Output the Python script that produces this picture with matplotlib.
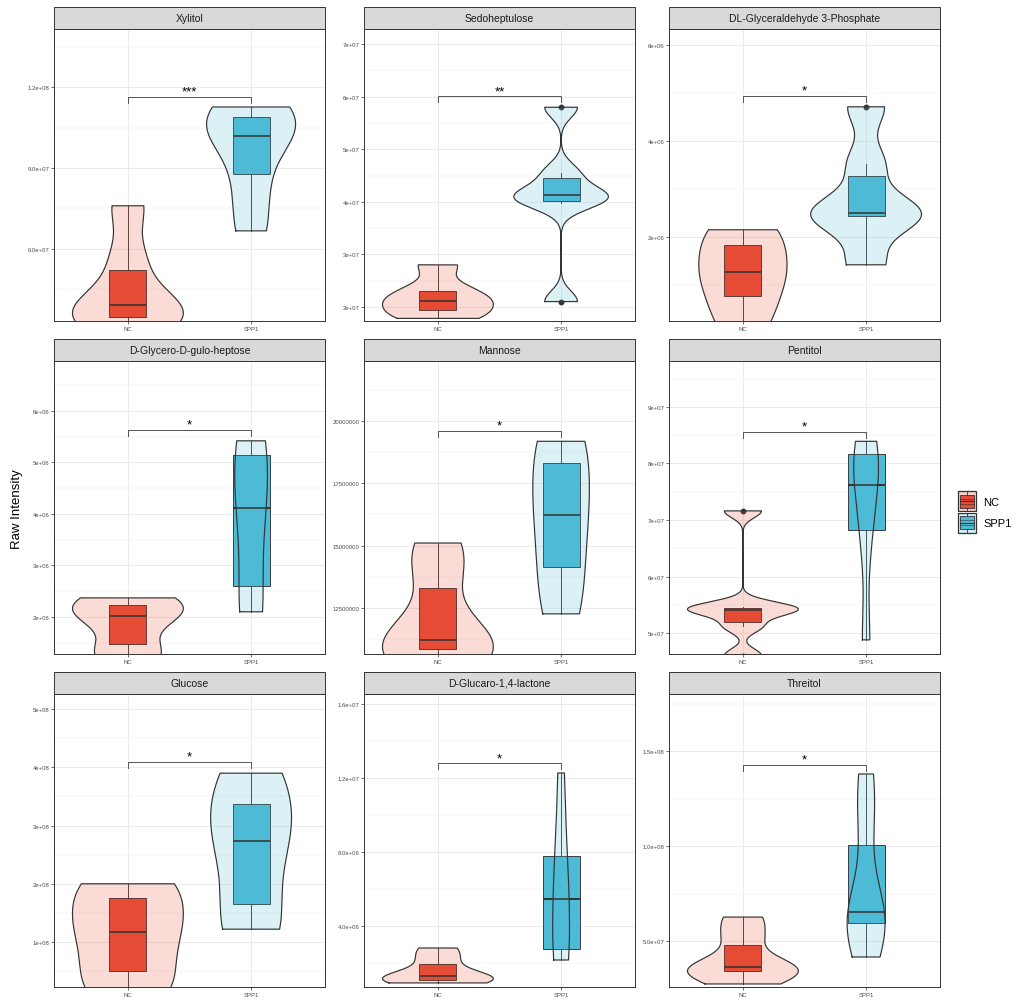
import numpy as np
import matplotlib
matplotlib.use('Agg')
import matplotlib.pyplot as plt
from matplotlib.patches import Rectangle, Patch
from matplotlib.legend_handler import HandlerBase

plt.rcParams['font.family'] = ['Liberation Sans', 'DejaVu Sans']

# ---------------- data ----------------
groups = ['NC', 'SPP1']
metabolites = ['Xylitol', 'Sedoheptulose', 'DL-Glyceraldehyde 3-Phosphate',
               'D-Glycero-D-gulo-heptose', 'Mannose', 'Pentitol',
               'Glucose', 'D-Glucaro-1,4-lactone', 'Threitol']

xylitol_nc = [3.10e7, 3.39e7, 3.80e7, 4.06e7, 5.61e7, 7.60e7]
xylitol_spp1 = [6.67e7, 8.36e7, 1.005e8, 1.033e8, 1.108e8, 1.126e8]
sedoheptulose_nc = [1.78e7, 1.88e7, 2.08e7, 2.16e7, 2.36e7, 2.80e7]
sedoheptulose_spp1 = [2.10e7, 3.98e7, 4.12e7, 4.14e7, 4.55e7, 5.80e7]
glyceraldehyde_nc = [0.10e6, 0.63e6, 1.20e6, 1.34e6, 1.99e6, 2.15e6]
glyceraldehyde_spp1 = [1.42e6, 2.42e6, 2.48e6, 2.52e6, 3.52e6, 4.71e6]
heptose_nc = [1.24e6, 1.31e6, 1.98e6, 2.06e6, 2.29e6, 2.37e6]
heptose_spp1 = [2.10e6, 2.17e6, 3.90e6, 4.34e6, 5.40e6, 5.42e6]
mannose_nc = [1.040e7, 1.080e7, 1.100e7, 1.144e7, 1.392e7, 1.510e7]
mannose_spp1 = [1.226e7, 1.357e7, 1.580e7, 1.666e7, 1.887e7, 1.918e7]
pentitol_nc = [4.60e7, 5.12e7, 5.40e7, 5.42e7, 5.46e7, 7.16e7]
pentitol_spp1 = [4.88e7, 6.59e7, 7.50e7, 7.72e7, 8.31e7, 8.39e7]
glucose_nc = [0.20e8, 0.31e8, 1.10e8, 1.26e8, 1.91e8, 2.00e8]
glucose_spp1 = [1.22e8, 1.33e8, 2.60e8, 2.86e8, 3.55e8, 3.90e8]
glucaro_nc = [0.92e6, 1.02e6, 1.25e6, 1.35e6, 2.15e6, 2.81e6]
glucaro_spp1 = [2.16e6, 2.21e6, 4.40e6, 6.52e6, 8.20e6, 12.27e6]
threitol_nc = [2.74e7, 3.38e7, 3.55e7, 3.71e7, 5.15e7, 6.26e7]
threitol_spp1 = [4.16e7, 5.83e7, 6.30e7, 6.76e7, 11.15e7, 13.79e7]

panel_data = [
    (xylitol_nc, xylitol_spp1), (sedoheptulose_nc, sedoheptulose_spp1),
    (glyceraldehyde_nc, glyceraldehyde_spp1), (heptose_nc, heptose_spp1),
    (mannose_nc, mannose_spp1), (pentitol_nc, pentitol_spp1),
    (glucose_nc, glucose_spp1), (glucaro_nc, glucaro_spp1),
    (threitol_nc, threitol_spp1)]

significance = ['***', '**', '*', '*', '*', '*', '*', '*', '*']
bracket_y = [1.163e8, 6.01e7, 4.94e6, 5.63e6, 1.96e7, 8.56e7, 4.09e8, 1.28e7, 1.426e8]

ytick_values = [
    [6.0e7, 9.0e7, 1.2e8],
    [2e7, 3e7, 4e7, 5e7, 6e7, 7e7],
    [2e6, 4e6, 6e6],
    [2e6, 3e6, 4e6, 5e6, 6e6],
    [1.25e7, 1.5e7, 1.75e7, 2.0e7],
    [5e7, 6e7, 7e7, 8e7, 9e7],
    [1e8, 2e8, 3e8, 4e8, 5e8],
    [4e6, 8e6, 1.2e7, 1.6e7],
    [5e7, 1e8, 1.5e8]]
ytick_labels = [
    ['6.0e+07', '9.0e+07', '1.2e+08'],
    ['2e+07', '3e+07', '4e+07', '5e+07', '6e+07', '7e+07'],
    ['2e+06', '4e+06', '6e+06'],
    ['2e+06', '3e+06', '4e+06', '5e+06', '6e+06'],
    ['12500000', '15000000', '17500000', '20000000'],
    ['5e+07', '6e+07', '7e+07', '8e+07', '9e+07'],
    ['1e+08', '2e+08', '3e+08', '4e+08', '5e+08'],
    ['4.0e+06', '8.0e+06', '1.2e+07', '1.6e+07'],
    ['5.0e+07', '1.0e+08', '1.5e+08']]

# ---------------- layout / style ----------------
y_limits = [(3.33e7, 1.415e8), (1.73e7, 7.29e7), (0.25e6, 6.33e6),
            (1.28e6, 6.97e6), (1.065e7, 2.24e7), (4.63e7, 9.81e7),
            (0.227e8, 5.26e8), (0.70e6, 1.654e7), (2.58e7, 1.80e8)]

W, H = 1016, 1004
cols_px = [(54, 325), (364, 635), (669, 940)]
rows_px = [(30, 322), (362, 655), (695, 988)]
strip_h = 22
colors = ['#E64B35', '#4DBBD5']
edge = '#333333'
grid_c = '#EBEBEB'


def nrd0(x):
    hi = np.std(x, ddof=1)
    q75, q25 = np.percentile(x, [75, 25])
    lo = min(hi, (q75 - q25) / 1.34)
    if lo == 0:
        lo = hi
    return 0.9 * lo * len(x) ** -0.2


def kde(x):
    bw = nrd0(x)
    g = np.linspace(x.min(), x.max(), 512)
    d = np.exp(-0.5 * ((g[:, None] - x[None, :]) / bw) ** 2).sum(1) / (len(x) * bw * np.sqrt(2 * np.pi))
    return g, d


def box_stats(x):
    q1, med, q3 = np.percentile(x, [25, 50, 75])
    iqr = q3 - q1
    lo_f, hi_f = q1 - 1.5 * iqr, q3 + 1.5 * iqr
    inside = x[(x >= lo_f) & (x <= hi_f)]
    out = x[(x < lo_f) | (x > hi_f)]
    return q1, med, q3, inside.min(), inside.max(), out


fig = plt.figure(figsize=(W / 100, H / 100), dpi=100)
fig.patch.set_facecolor('white')

for i, name in enumerate(metabolites):
    r, c = divmod(i, 3)
    x0, x1 = cols_px[c]
    y0, y1 = rows_px[r]
    ax = fig.add_axes([x0 / W, 1 - y1 / H, (x1 - x0) / W, (y1 - y0) / H])
    ax.set_xlim(0.4, 2.6)
    ax.set_ylim(*y_limits[i])
    data = [np.array(d, dtype=float) for d in panel_data[i]]
    dens = [kde(d) for d in data]
    maxd = max(dd.max() for _, dd in dens)
    for j, d in enumerate(data):
        xc = j + 1
        col = colors[j]
        q1, med, q3, wlo, whi, out = box_stats(d)
        ax.plot([xc, xc], [wlo, q1], color=edge, lw=0.65, zorder=2)
        ax.plot([xc, xc], [q3, whi], color=edge, lw=0.65, zorder=2)
        ax.add_patch(Rectangle((xc - 0.15, q1), 0.3, q3 - q1, facecolor=col,
                               edgecolor=edge, lw=0.65, zorder=2))
        ax.plot([xc - 0.15, xc + 0.15], [med, med], color=edge, lw=1.4, zorder=2,
                solid_capstyle='butt')
        if len(out):
            ax.plot([xc] * len(out), out, 'o', ms=3.2, color=edge, zorder=2)
        g, dd = dens[j]
        hw = dd / maxd * 0.45
        ax.fill_betweenx(g, xc - hw, xc + hw, facecolor=col, alpha=0.2, lw=0, zorder=3)
        xs = np.concatenate([xc - hw, (xc + hw)[::-1], [xc - hw[0]]])
        ys = np.concatenate([g, g[::-1], [g[0]]])
        ax.plot(xs, ys, color=edge, lw=0.85, zorder=3)

    # significance bracket
    lo, hi = y_limits[i]
    tip = 0.02 * (hi - lo)
    by = bracket_y[i]
    ax.plot([1, 1, 2, 2], [by - tip, by, by, by - tip], color='#555555', lw=0.7, zorder=4)
    ax.annotate(significance[i], xy=(1.5, by), xytext=(0, 1.6), textcoords='offset points',
                ha='center', va='baseline', fontsize=9.5, color='black', zorder=5)

    # axes styling
    ticks = ytick_values[i]
    ax.set_yticks(ticks)
    ax.set_yticklabels(ytick_labels[i])
    step = ticks[1] - ticks[0]
    minor = np.arange(ticks[0] - step / 2, hi, step)
    ax.set_yticks([m for m in minor if lo <= m <= hi], minor=True)
    ax.set_xticks([1, 2])
    ax.set_xticklabels(groups)
    ax.grid(which='major', color=grid_c, lw=0.7)
    ax.grid(which='minor', axis='y', color=grid_c, lw=0.35)
    ax.set_axisbelow(True)
    ax.tick_params(which='minor', length=0)
    ax.tick_params(which='major', length=2.2, width=0.5, color=edge,
                   labelsize=4.3, labelcolor='#4D4D4D', pad=1.2)
    for s in ax.spines.values():
        s.set_color(edge)
        s.set_linewidth(0.7)
        s.set_zorder(6)

    # facet strip
    sh = strip_h / (y1 - y0)
    ax.add_patch(Rectangle((0, 1), 1, sh, transform=ax.transAxes, clip_on=False,
                           facecolor='#D9D9D9', edgecolor=edge, lw=0.7, zorder=7))
    ax.text(0.5, 1 + sh / 2, name, transform=ax.transAxes, ha='center', va='center',
            fontsize=7.5, color='#1A1A1A', zorder=8)

fig.text(17 / W, 1 - 509 / H, 'Raw Intensity', rotation=90, ha='center', va='center',
         fontsize=9.5, color='black')


class ViolinBoxHandler(HandlerBase):
    def create_artists(self, legend, orig_handle, xdescent, ydescent, width, height,
                       fontsize, trans):
        col = orig_handle.get_facecolor()
        bx, by = -xdescent, -ydescent
        light = (col[0], col[1], col[2], 0.25)
        arts = []
        arts.append(Rectangle((bx, by), width, height, facecolor='white', edgecolor='none',
                              transform=trans))
        arts.append(Rectangle((bx + 0.03 * width, by + 0.03 * height), 0.94 * width, 0.94 * height,
                              facecolor=light, edgecolor=edge, lw=0.9, transform=trans))
        arts.append(Rectangle((bx + 0.14 * width, by + 0.2 * height), 0.72 * width, 0.6 * height,
                              facecolor=col, edgecolor=edge, lw=0.6, transform=trans))
        for fy in (0.38, 0.5, 0.62):
            arts.append(plt.Line2D([bx + 0.14 * width, bx + 0.86 * width], [by + fy * height] * 2,
                                   color=edge, lw=0.8 if fy == 0.5 else 0.4, transform=trans))
        arts.append(plt.Line2D([bx + 0.5 * width] * 2, [by + 0.03 * height, by + 0.2 * height],
                               color=edge, lw=0.6, transform=trans))
        arts.append(plt.Line2D([bx + 0.5 * width] * 2, [by + 0.8 * height, by + 0.97 * height],
                               color=edge, lw=0.6, transform=trans))
        return arts


handles = [Patch(facecolor=colors[0]), Patch(facecolor=colors[1])]
fig.legend(handles=handles, labels=groups, handler_map={Patch: ViolinBoxHandler()},
           loc='center left', bbox_to_anchor=(957 / W, 1 - 513 / H), frameon=False,
           fontsize=8, handlelength=1.8, handleheight=2.55, labelspacing=0.0,
           handletextpad=0.55, borderpad=0, borderaxespad=0)

fig.savefig('out.png', dpi=100, facecolor='white')
